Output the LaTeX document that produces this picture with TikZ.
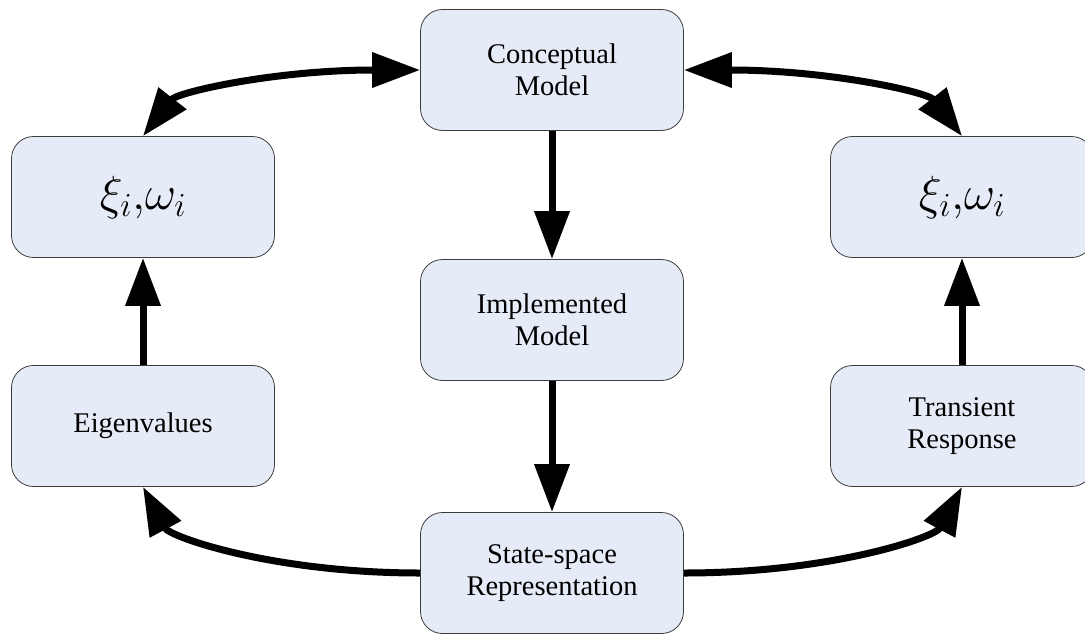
\RequirePackage{fix-cm}
\documentclass[tikz,border=0pt]{standalone}
\usepackage{amsmath,amssymb}
\usepackage{fontspec}
\setmainfont{Liberation Serif}
\usepackage{tikz}
\usetikzlibrary{arrows.meta}
\definecolor{boxfill}{RGB}{230,236,247}
\definecolor{boxline}{RGB}{60,60,60}

\begin{document}
\begin{tikzpicture}[x=1pt,y=1pt]
          \tikzstyle{block}=[rectangle,rounded corners=22pt,draw=boxline,fill=boxfill,thick,
            minimum width=263pt,minimum height=121pt,align=center,
            font=\fontsize{28.5}{32}\selectfont]
          \tikzstyle{big}=[font=\fontsize{48}{52}\selectfont]
          \tikzstyle{flow}=[line width=7pt,-{Triangle[length=48pt,width=34pt]}]
          \tikzstyle{both}=[line width=7pt,{Triangle[length=48pt,width=34pt]}-{Triangle[length=48pt,width=34pt]}]

          \useasboundingbox (0,0) rectangle (1085,-635);

          \begin{scope}[node distance=250pt]
            \node[block](concept) at (552,-70){Conceptual\\Model};
            \node[block,below of=concept](impl){Implemented\\Model};
            \node[block,below of=impl,yshift=-3pt](state){State-space\\Representation};
            \node[block,big,left of=concept,xshift=-159pt,yshift=-127pt](xileft){$\xi_i{,}\omega_i$};
            \node[block,big,right of=concept,xshift=160pt,yshift=-127pt](xiright){$\xi_i{,}\omega_i$};
            \node[block,below of=xileft,yshift=21pt](eigen){Eigenvalues};
            \node[block,below of=xiright,yshift=21pt](trans){Transient\\Response};

            \path[flow]
            (concept) edge (impl)
            (impl) edge (state)
            (eigen) edge (xileft)
            (trans) edge (xiright);

            \draw[both] (concept.west) to[out=180,in=52,out looseness=1.3,in looseness=0.5] (xileft.north);
            \draw[both] (concept.east) to[out=0,in=128,out looseness=1.3,in looseness=0.5] (xiright.north);
            \draw[flow] (state.west) to[out=180,in=-62,out looseness=1.3,in looseness=0.5] (eigen.south);
            \draw[flow] (state.east) to[out=0,in=-118,out looseness=1.3,in looseness=0.5] (trans.south);
          \end{scope}
        \end{tikzpicture}
\end{document}
